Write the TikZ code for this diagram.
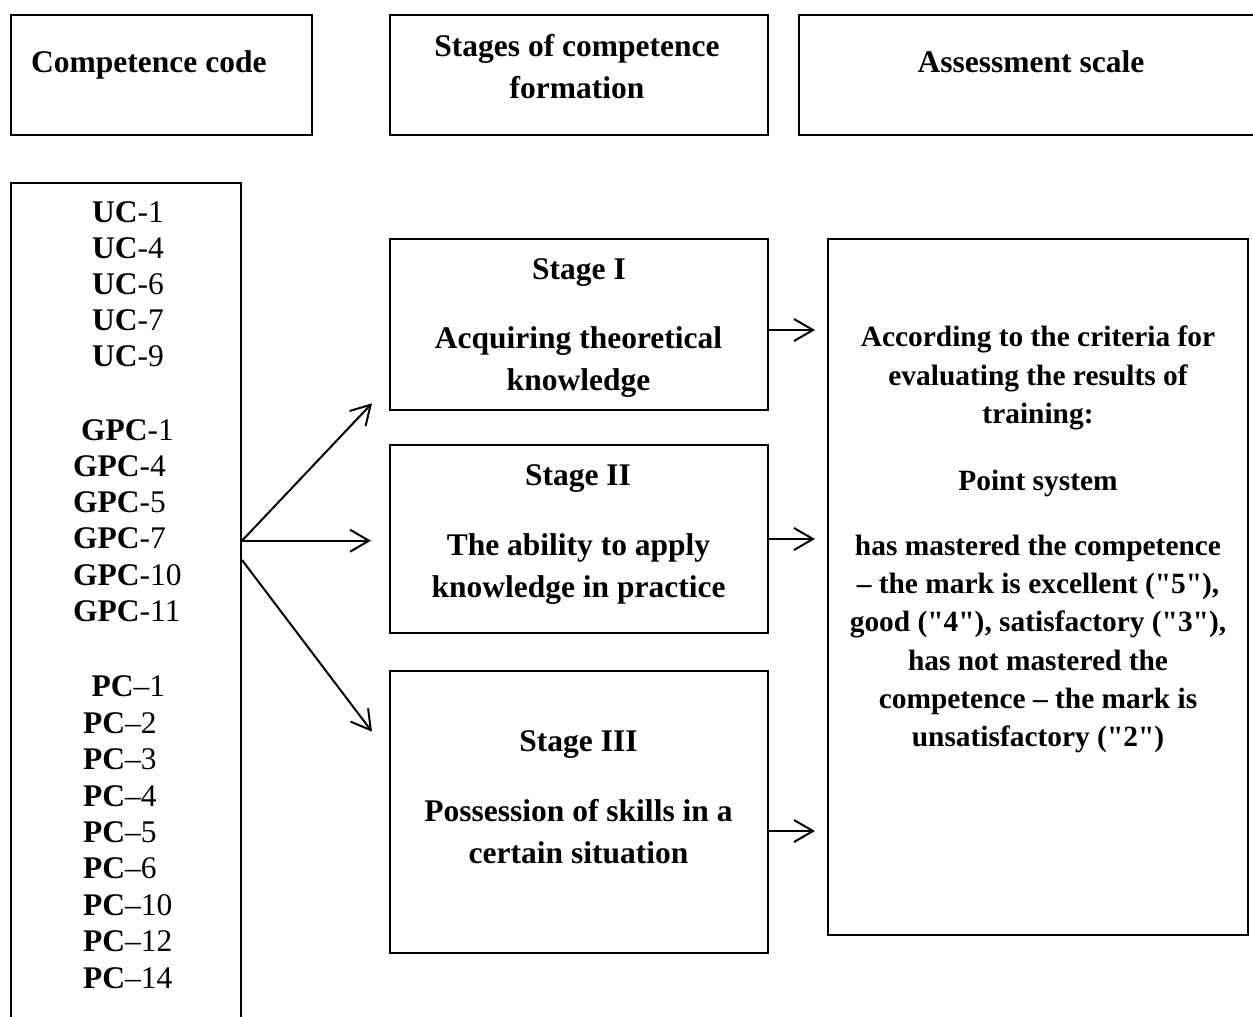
\documentclass[tikz,border=0pt]{standalone}
\usepackage{fontspec}
% plain straight quotes; en dashes are typed directly
\setmainfont{Liberation Serif}[Ligatures=TeXOff]
\usetikzlibrary{arrows.meta,calc}

\begin{document}
\begin{tikzpicture}[x=1pt,y=-1pt,
  boxframe/.style={draw, line width=2pt, inner sep=0pt},
  headtxt/.style={inner sep=0pt, anchor=base, font=\fontsize{31.5}{36}\selectfont\bfseries},
  scaletxt/.style={inner sep=0pt, anchor=base, font=\fontsize{29.4}{36}\selectfont\bfseries},
  codetxt/.style={inner sep=0pt, anchor=base west, font=\fontsize{31.5}{36}\selectfont},
  arr/.style={line width=2pt, -{Straight Barb[length=19pt,width=22pt]}}]

\useasboundingbox (0,0) rectangle (1253,1017);
\fill[white] (0,0) rectangle (1253,1017);

% column headers
\node[boxframe, minimum width=300.5pt, minimum height=120pt] (h1) at (161.25,75) {};
\node[boxframe, minimum width=377.5pt, minimum height=120pt] (h2) at (578.75,75) {};
\node[boxframe, minimum width=476pt, minimum height=120pt] (h3) at (1037,75) {};
\node[headtxt, anchor=base west] (h1a) at (31,72) {Competence code};
\node[headtxt] (h2a) at (577,56.5) {Stages of competence};
\node[headtxt] (h2b) at (577,98.5) {formation};
\node[headtxt] (h3a) at (1031,72) {Assessment scale};

% competence codes
\node[boxframe, minimum width=230pt, minimum height=857pt] (codes) at (126,611.5) {};
\foreach \n [count=\i from 0] in {1,4,6,7,9}
  \node[codetxt] (uc\n) at (92,222.5+36.1*\i) {\textbf{UC}-\n};
\node[codetxt] (gpc1) at (81,440) {\textbf{GPC}-1};
\foreach \n [count=\i from 1] in {4,5,7,10,11}
  \node[codetxt] (gpc\n) at (73,440+36.3*\i) {\textbf{GPC}-\n};
\node[codetxt] (pc1) at (91.5,696.7) {\textbf{PC}–1};
\foreach \n [count=\i from 1] in {2,3,4,5,6,10,12,14}
  \node[codetxt] (pc\n) at (83,696.7+36.45*\i) {\textbf{PC}–\n};

% stages
\node[boxframe, minimum width=377.5pt, minimum height=170.7pt] (s1) at (578.75,324.65) {};
\node[boxframe, minimum width=377.5pt, minimum height=187.7pt] (s2) at (578.75,538.85) {};
\node[boxframe, minimum width=377.5pt, minimum height=281.7pt] (s3) at (578.75,811.85) {};
\node[headtxt] (s1a) at (579,279) {Stage I};
\node[headtxt] (s1b) at (578.5,348) {Acquiring theoretical};
\node[headtxt] (s1c) at (578.5,390) {knowledge};
\node[headtxt] (s2a) at (578,485) {Stage II};
\node[headtxt] (s2b) at (578.5,555) {The ability to apply};
\node[headtxt] (s2c) at (578.5,597) {knowledge in practice};
\node[headtxt] (s3a) at (578.5,751) {Stage III};
\node[headtxt] (s3b) at (578.5,821.5) {Possession of skills in a};
\node[headtxt] (s3c) at (578.5,863) {certain situation};

% assessment scale
\node[boxframe, minimum width=419.4pt, minimum height=696pt] (scale) at (1038,587) {};
\node[scaletxt] (c1) at (1038,346.7) {According to the criteria for};
\node[scaletxt] (c2) at (1038,385) {evaluating the results of};
\node[scaletxt] (c3) at (1038,423.3) {training:};
\node[scaletxt] (c4) at (1038,490.5) {Point system};
\node[scaletxt] (c5) at (1038,555) {has mastered the competence};
\node[scaletxt] (c6) at (1038,593.3) {– the mark is excellent ("5"),};
\node[scaletxt] (c7) at (1038,631.7) {good ("4"), satisfactory ("3"),};
\node[scaletxt] (c8) at (1038,670) {has not mastered the};
\node[scaletxt] (c9) at (1038,708.3) {competence – the mark is};
\node[scaletxt] (c10) at (1038,746.7) {unsatisfactory ("2")};

% connectors from the codes to the stages
\coordinate (fork) at (241,540.7);
\coordinate (forklow) at (241,560);
\coordinate (t1) at (372,403.3);
\coordinate (t2) at (371,540.7);
\coordinate (t3) at (372,731.7);
\draw[arr] (codes.east |- fork) -- (t1);
\draw[arr] (codes.east |- fork) -- (t2);
\draw[arr] (codes.east |- forklow) -- (t3);

% connectors from the stages to the scale
\coordinate (r1) at (815,330);
\coordinate (r2) at (815,539);
\coordinate (r3) at (815,831);
\draw[arr] (s1.east |- r1) -- (r1);
\draw[arr] (s2.east |- r2) -- (r2);
\draw[arr] (s3.east |- r3) -- (r3);
\end{tikzpicture}
\end{document}
